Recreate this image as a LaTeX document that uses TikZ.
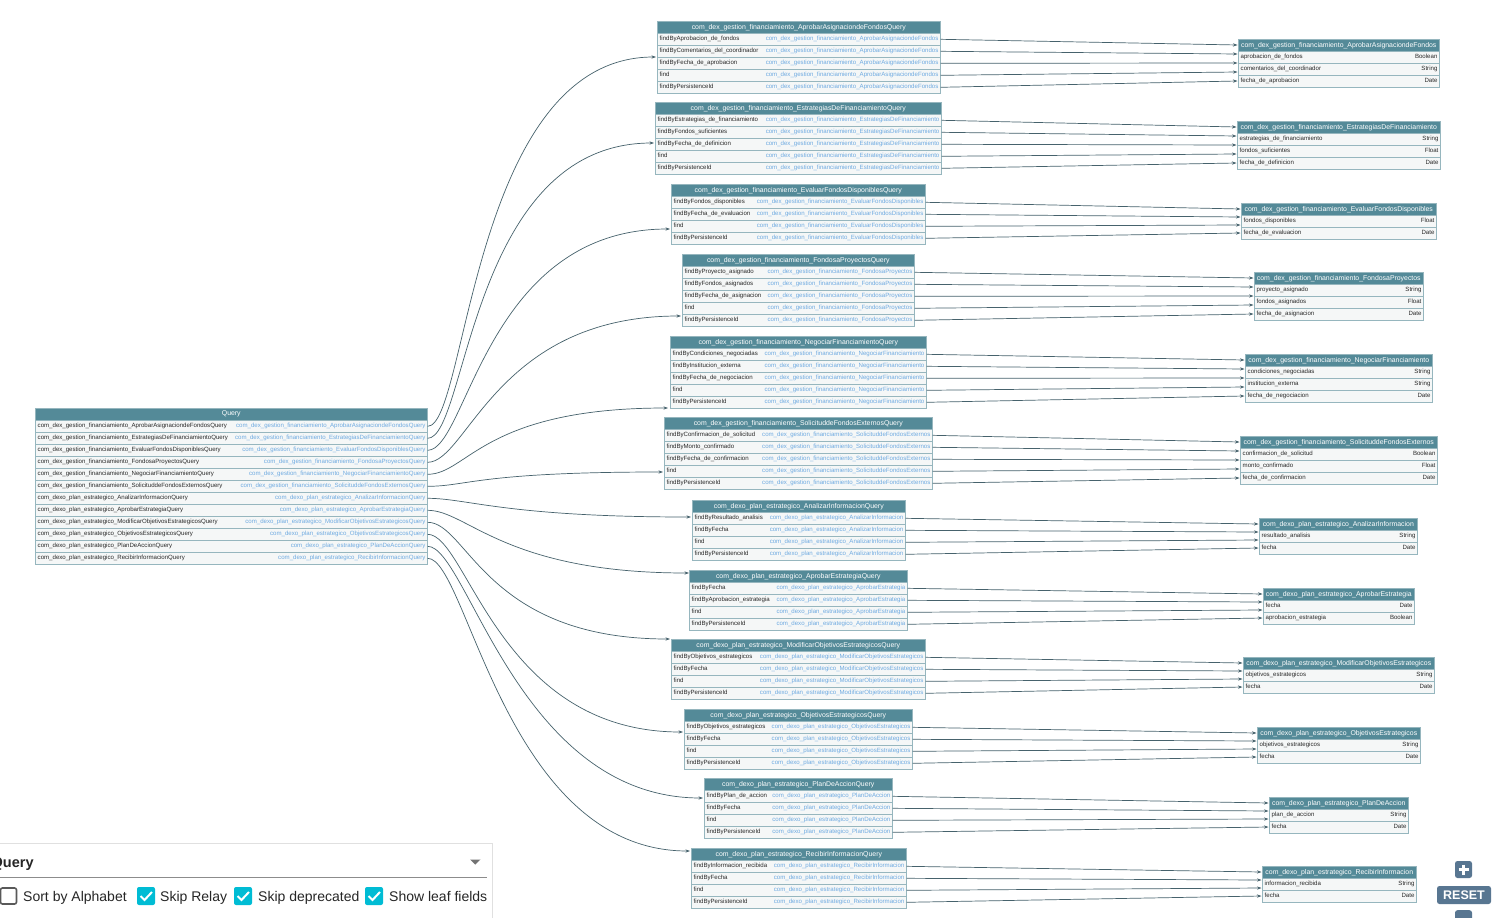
\documentclass[tikz,border=0pt]{standalone}
\usepackage{fontspec}
\setmainfont{Liberation Sans}
\usetikzlibrary{arrows.meta}
\definecolor{hdrc}{RGB}{84,138,152}
\definecolor{brdc}{RGB}{150,182,190}
\definecolor{rowc}{RGB}{245,247,247}
\definecolor{typc}{RGB}{110,170,225}
\definecolor{txtc}{RGB}{40,40,40}
\definecolor{edgc}{RGB}{70,98,108}
\definecolor{chkc}{RGB}{0,188,212}
\definecolor{btnc}{RGB}{88,118,145}
\newcommand{\GFp}{com\_dex\_gestion\_financiamiento\_}
\newcommand{\PEp}{com\_dexo\_plan\_estrategico\_}
\tikzset{
  hdr/.style={draw=brdc, fill=hdrc, text=white, minimum height=12pt, inner sep=0pt, line width=0.6pt, font=\fontsize{6.9}{7}\selectfont},
  rowbox/.style={draw=brdc, fill=rowc, minimum height=12pt, inner sep=0pt, line width=0.6pt},
  fname/.style={inner sep=0pt, text=txtc, font=\fontsize{6.1}{7}\selectfont, text height=4.5pt, text depth=1.3pt},
  ftype/.style={fname, text=typc},
  edge/.style={draw=edgc, line width=0.7pt, -{Stealth[length=4.5pt,width=3.2pt]}},
  panel/.style={inner sep=0pt, text=black!85, font=\fontsize{14}{16}\selectfont},
  cbon/.style={fill=chkc, rounded corners=2pt, minimum size=18pt, inner sep=0pt},
  cboff/.style={draw=black!65, line width=1.6pt, rounded corners=2pt, minimum size=16pt, inner sep=0pt},
  btn/.style={fill=btnc, rounded corners=2.5pt, inner sep=0pt}
}
% general table: name, x1, x2, ytop, title, rows l/r, type style
\newcommand{\tbl}[7]{%
  \node[hdr, anchor=north west, minimum width={(#3-#2)*1pt}] (#1) at (#2,#4) {#5};
  \foreach \fl/\ft [count=\idx] in {#6} {%
    \node[rowbox, anchor=north west, minimum width={(#3-#2)*1pt}] (#1-\idx) at (#2,{#4+12*\idx}) {};
    \node[fname, anchor=west] (#1-\idx-l) at ([xshift=2.5pt]#1-\idx.west) {\fl};
    \node[#7, anchor=east] (#1-\idx-r) at ([xshift=-2pt]#1-\idx.east) {\ft};
  }%
}
% query table with one type for all rows
\newcommand{\mtbl}[7]{%
  \node[hdr, anchor=north west, minimum width={(#3-#2)*1pt}] (#1) at (#2,#4) {#5};
  \foreach \fl [count=\idx] in {#6} {%
    \node[rowbox, anchor=north west, minimum width={(#3-#2)*1pt}] (#1-\idx) at (#2,{#4+12*\idx}) {};
    \node[fname, anchor=west] (#1-\idx-l) at ([xshift=2.5pt]#1-\idx.west) {\fl};
    \node[ftype, anchor=east] (#1-\idx-r) at ([xshift=-2pt]#1-\idx.east) {#7};
  }%
}
% links: middle name, n rows, right name, y head, y last
\newcommand{\links}[5]{%
  \foreach \idx in {1,...,#2} {%
    \pgfmathsetmacro\tyy{#4+(\idx-1)*(#5-#4)/(#2-1)}
    \coordinate (#3-in-\idx) at ([xshift=-0.5pt]#3.west |- 0,\tyy);
    \draw[edge] (#1-\idx.east) -- (#3-in-\idx);
  }%
}
\begin{document}
\begin{tikzpicture}[x=1pt,y=-1pt]
\useasboundingbox (0,0) rectangle (1502,918);
\fill[white] (0,0) rectangle (1502,918);

% ---------- Query root ----------
\tbl{q}{35}{427}{408}{Query}{%
\GFp AprobarAsignaciondeFondosQuery/\GFp AprobarAsignaciondeFondosQuery,
\GFp EstrategiasDeFinanciamientoQuery/\GFp EstrategiasDeFinanciamientoQuery,
\GFp EvaluarFondosDisponiblesQuery/\GFp EvaluarFondosDisponiblesQuery,
\GFp FondosaProyectosQuery/\GFp FondosaProyectosQuery,
\GFp NegociarFinanciamientoQuery/\GFp NegociarFinanciamientoQuery,
\GFp SolicituddeFondosExternosQuery/\GFp SolicituddeFondosExternosQuery,
\PEp AnalizarInformacionQuery/\PEp AnalizarInformacionQuery,
\PEp AprobarEstrategiaQuery/\PEp AprobarEstrategiaQuery,
\PEp ModificarObjetivosEstrategicosQuery/\PEp ModificarObjetivosEstrategicosQuery,
\PEp ObjetivosEstrategicosQuery/\PEp ObjetivosEstrategicosQuery,
\PEp PlanDeAccionQuery/\PEp PlanDeAccionQuery,
\PEp RecibirInformacionQuery/\PEp RecibirInformacionQuery}{ftype}

% ---------- middle query types ----------
\mtbl{m1}{657}{940}{21}{\GFp AprobarAsignaciondeFondosQuery}{findByAprobacion\_de\_fondos,findByComentarios\_del\_coordinador,findByFecha\_de\_aprobacion,find,findByPersistenceId}{\GFp AprobarAsignaciondeFondos}
\mtbl{m2}{655}{941}{102}{\GFp EstrategiasDeFinanciamientoQuery}{findByEstrategias\_de\_financiamiento,findByFondos\_suficientes,findByFecha\_de\_definicion,find,findByPersistenceId}{\GFp EstrategiasDeFinanciamiento}
\mtbl{m3}{671}{925}{184}{\GFp EvaluarFondosDisponiblesQuery}{findByFondos\_disponibles,findByFecha\_de\_evaluacion,find,findByPersistenceId}{\GFp EvaluarFondosDisponibles}
\mtbl{m4}{682}{914}{254}{\GFp FondosaProyectosQuery}{findByProyecto\_asignado,findByFondos\_asignados,findByFecha\_de\_asignacion,find,findByPersistenceId}{\GFp FondosaProyectos}
\mtbl{m5}{670}{926}{336}{\GFp NegociarFinanciamientoQuery}{findByCondiciones\_negociadas,findByInstitucion\_externa,findByFecha\_de\_negociacion,find,findByPersistenceId}{\GFp NegociarFinanciamiento}
\mtbl{m6}{664}{932}{417}{\GFp SolicituddeFondosExternosQuery}{findByConfirmacion\_de\_solicitud,findByMonto\_confirmado,findByFecha\_de\_confirmacion,find,findByPersistenceId}{\GFp SolicituddeFondosExternos}
\mtbl{m7}{692}{905}{500}{\PEp AnalizarInformacionQuery}{findByResultado\_analisis,findByFecha,find,findByPersistenceId}{\PEp AnalizarInformacion}
\mtbl{m8}{689}{907}{570}{\PEp AprobarEstrategiaQuery}{findByFecha,findByAprobacion\_estrategia,find,findByPersistenceId}{\PEp AprobarEstrategia}
\mtbl{m9}{671}{925}{639}{\PEp ModificarObjetivosEstrategicosQuery}{findByObjetivos\_estrategicos,findByFecha,find,findByPersistenceId}{\PEp ModificarObjetivosEstrategicos}
\mtbl{m10}{684}{912}{709}{\PEp ObjetivosEstrategicosQuery}{findByObjetivos\_estrategicos,findByFecha,find,findByPersistenceId}{\PEp ObjetivosEstrategicos}
\mtbl{m11}{704}{892}{778}{\PEp PlanDeAccionQuery}{findByPlan\_de\_accion,findByFecha,find,findByPersistenceId}{\PEp PlanDeAccion}
\mtbl{m12}{691}{906}{848}{\PEp RecibirInformacionQuery}{findByInformacion\_recibida,findByFecha,find,findByPersistenceId}{\PEp RecibirInformacion}

% ---------- right entity types ----------
\tbl{r1}{1238}{1439}{39}{\GFp AprobarAsignaciondeFondos}{aprobacion\_de\_fondos/Boolean,comentarios\_del\_coordinador/String,fecha\_de\_aprobacion/Date}{fname}
\tbl{r2}{1237}{1440}{121}{\GFp EstrategiasDeFinanciamiento}{estrategias\_de\_financiamiento/String,fondos\_suficientes/Float,fecha\_de\_definicion/Date}{fname}
\tbl{r3}{1241}{1436}{203}{\GFp EvaluarFondosDisponibles}{fondos\_disponibles/Float,fecha\_de\_evaluacion/Date}{fname}
\tbl{r4}{1254}{1423}{272}{\GFp FondosaProyectos}{proyecto\_asignado/String,fondos\_asignados/Float,fecha\_de\_asignacion/Date}{fname}
\tbl{r5}{1245}{1432}{354}{\GFp NegociarFinanciamiento}{condiciones\_negociadas/String,institucion\_externa/String,fecha\_de\_negociacion/Date}{fname}
\tbl{r6}{1240}{1437}{436}{\GFp SolicituddeFondosExternos}{confirmacion\_de\_solicitud/Boolean,monto\_confirmado/Float,fecha\_de\_confirmacion/Date}{fname}
\tbl{r7}{1259}{1417}{518}{\PEp AnalizarInformacion}{resultado\_analisis/String,fecha/Date}{fname}
\tbl{r8}{1263}{1414}{588}{\PEp AprobarEstrategia}{fecha/Date,aprobacion\_estrategia/Boolean}{fname}
\tbl{r9}{1243}{1434}{657}{\PEp ModificarObjetivosEstrategicos}{objetivos\_estrategicos/String,fecha/Date}{fname}
\tbl{r10}{1257}{1420}{727}{\PEp ObjetivosEstrategicos}{objetivos\_estrategicos/String,fecha/Date}{fname}
\tbl{r11}{1269}{1408}{797}{\PEp PlanDeAccion}{plan\_de\_accion/String,fecha/Date}{fname}
\tbl{r12}{1262}{1416}{866}{\PEp RecibirInformacion}{informacion\_recibida/String,fecha/Date}{fname}

% ---------- edges middle -> right ----------
\links{m1}{5}{r1}{45}{81}
\links{m2}{5}{r2}{127}{163}
\links{m3}{4}{r3}{209}{233}
\links{m4}{5}{r4}{278}{314}
\links{m5}{5}{r5}{360}{396}
\links{m6}{5}{r6}{442}{478}
\links{m7}{4}{r7}{524}{548}
\links{m8}{4}{r8}{594}{618}
\links{m9}{4}{r9}{663}{687}
\links{m10}{4}{r10}{733}{757}
\links{m11}{4}{r11}{803}{827}
\links{m12}{4}{r12}{872}{896}

% ---------- edges Query -> middle ----------
\foreach \k/\tx/\ty in {1/656/57,2/654/143,3/670/229,4/681/316,5/668/408,6/663/472,7/691/517,8/689/573,9/670/639,10/683/732,11/703/798,12/690/851} {%
  \coordinate (qt\k) at (\tx,\ty);
  \draw[edge] (q-\k.east) .. controls +(40,0) and +(-185,0) .. (qt\k);
}

% ---------- bottom-left panel ----------
\fill[white] (-1,843) rectangle (492.5,919);
\draw[black!12, line width=1pt] (-1,843.5) -- (492.5,843.5) -- (492.5,919);
\node[panel, anchor=base west, font=\bfseries\fontsize{14.5}{16}\selectfont] (ptitle) at (-8.5,867) {Query};
\fill[black!55] (470,859.5) -- (480.5,859.5) -- (475.25,864.5) -- cycle;
\coordinate (ul1) at (0,877);
\coordinate (ul2) at (487,877);
\draw[black!45, line width=0.9pt] (ul1) -- (ul2);
\node[cboff] (cb1) at (8.5,896) {};
\node[panel, anchor=base west] (lb1) at (23,901.5) {Sort by Alphabet};
\node[cbon] (cb2) at (146,896) {};
\draw[white, line width=2pt] (140.5,896) -- (144.5,900) -- (152,892);
\node[panel, anchor=base west] (lb2) at (160,901.5) {Skip Relay};
\node[cbon] (cb3) at (243,896) {};
\draw[white, line width=2pt] (237.5,896) -- (241.5,900) -- (249,892);
\node[panel, anchor=base west] (lb3) at (258,901.5) {Skip deprecated};
\node[cbon] (cb4) at (374,896) {};
\draw[white, line width=2pt] (368.5,896) -- (372.5,900) -- (380,892);
\node[panel, anchor=base west] (lb4) at (389,901.5) {Show leaf fields};

% ---------- zoom buttons ----------
\node[btn, minimum width=17pt, minimum height=17pt] (zin) at (1463.5,869.5) {};
\draw[white, line width=2.4pt] (1458.5,869.5) -- (1468.5,869.5) (1463.5,864.5) -- (1463.5,874.5);
\node[btn, minimum width=54pt, minimum height=18pt, text=white, font=\bfseries\fontsize{12.5}{13}\selectfont] (reset) at (1464,895) {RESET};
\node[btn, minimum width=17pt, minimum height=17pt, anchor=north] (zout) at (1463.5,910) {};
\end{tikzpicture}
\end{document}
